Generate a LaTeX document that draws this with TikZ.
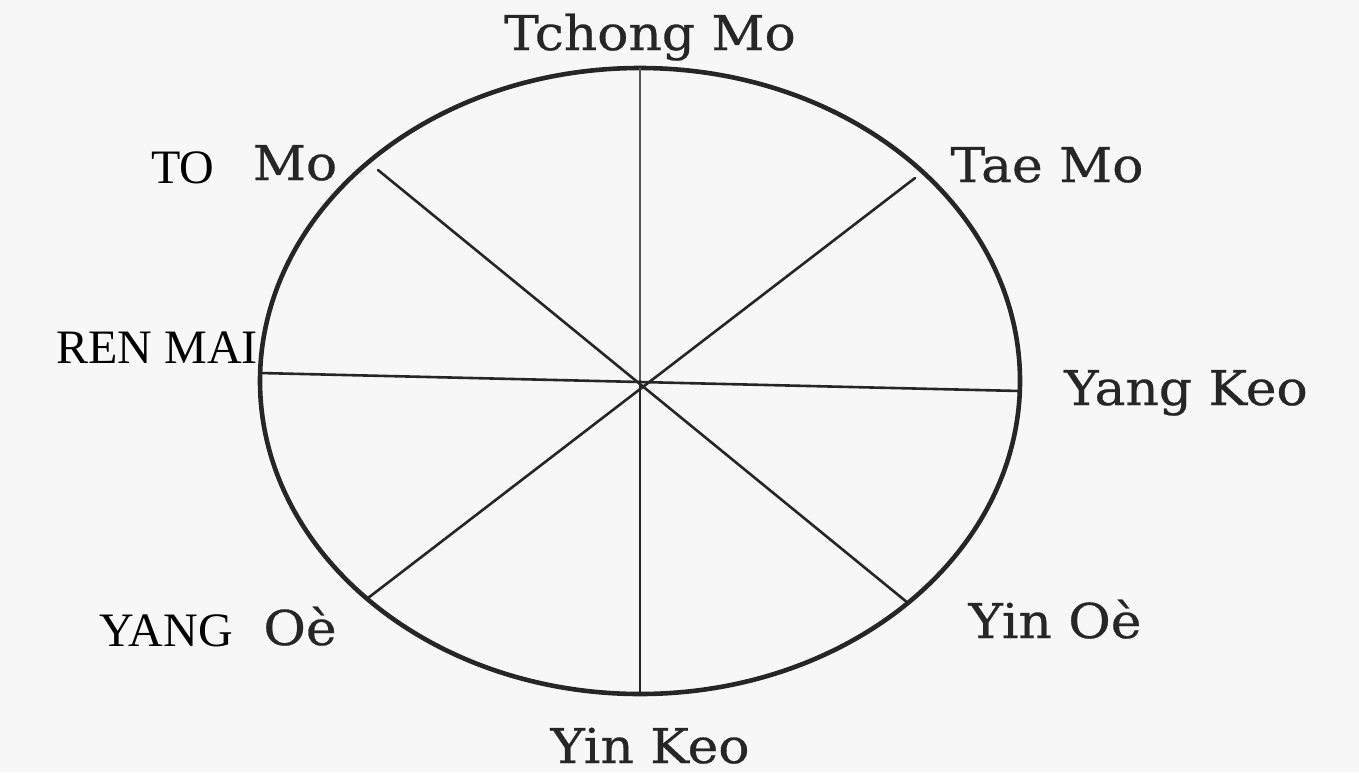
\documentclass[tikz,border=0pt]{standalone}
\usepackage{fontspec}
\setmainfont{Liberation Serif}
\newfontfamily\scanfont[FakeStretch=1.08,FakeBold=0.6]{DejaVu Serif}
\begin{document}
\begin{tikzpicture}[x=1pt,y=-1pt,
  ink/.style={draw=black!85, line cap=round},
  rim/.style={ink, line width=4.6pt},
  spoke/.style={ink, line width=2.6pt},
  axis/.style={draw=black!65, line width=1.5pt},
  scanlbl/.style={font=\fontsize{48}{52}\selectfont\scanfont, text=black!85, inner sep=0pt, anchor=base},
  newlbl/.style={font=\fontsize{48}{52}\selectfont, text=black, inner sep=0pt, anchor=base}]
\fill[white!97!black] (0,0) rectangle (1359,772);
\useasboundingbox (0,0) rectangle (1359,772);
% ellipse
\coordinate (c) at (640,381);
\draw[rim] (c) ellipse [x radius=380, y radius=313];
% rim points
\coordinate (top) at (640,68);
\coordinate (bot) at (640,694);
\coordinate (lft) at (260,373);
\coordinate (rgt) at (1020,391);
\coordinate (tl) at (378,170);
\coordinate (tr) at (915,178);
\coordinate (bl) at (368,598);
\coordinate (br) at (908,603);
% spokes
\draw[axis] (top) -- (c);
\draw[spoke] (c) -- (bot);
\draw[spoke] (lft) -- (rgt);
\draw[spoke] (tl) -- (br);
\draw[spoke] (tr) -- (bl);
% labels
\node[scanlbl] (tchong) at (650,50) {Tchong Mo};
\node[newlbl] (to) at (183,183) {TO};
\node[scanlbl] (tomo) at (295,180) {Mo};
\node[scanlbl] (tae) at (1047,182) {Tae Mo};
\node[newlbl] (ren) at (157,363) {REN MAI};
\node[scanlbl] (yangkeo) at (1186,405) {Yang Keo};
\node[newlbl] (yang) at (166,646) {YANG};
\node[scanlbl] (yangoe) at (300,645) {Oè};
\node[scanlbl] (yinoe) at (1055,638) {Yin Oè};
\node[scanlbl] (yinkeo) at (650,763) {Yin Keo};
\end{tikzpicture}
\end{document}
